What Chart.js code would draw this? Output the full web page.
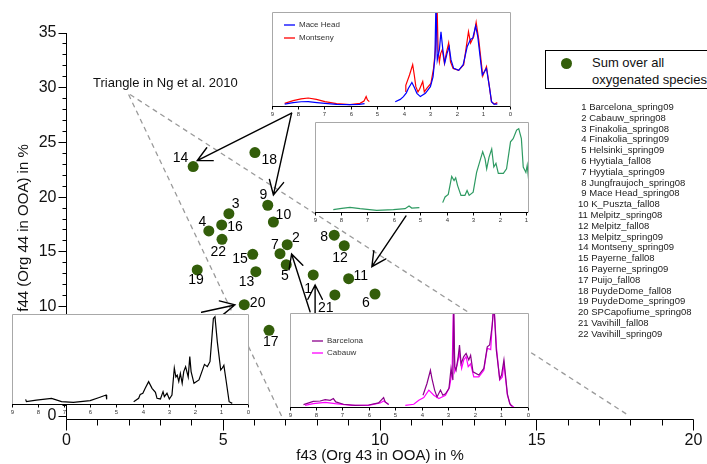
<!DOCTYPE html>
<html><head><meta charset="utf-8">
<script src="https://cdn.jsdelivr.net/npm/chart.js@4.4.1/dist/chart.umd.min.js"></script>
<style>
html,body{margin:0;padding:0;background:#fff;}
#wrap{position:relative;width:707px;height:464px;overflow:hidden;font-family:"Liberation Sans",Arial,sans-serif;color:#111;}
canvas{position:absolute;}
.txt{position:absolute;white-space:nowrap;}
#legend{position:absolute;left:545px;top:50px;width:180px;height:39px;border:1px solid #000;box-sizing:border-box;background:#fff;}
#dot{position:absolute;left:561px;top:58px;width:11px;height:11px;border-radius:50%;background:#335e0a;}
</style></head>
<body><div id="wrap">
<canvas id="main" width="707" height="464" style="left:0;top:0"></canvas>
<canvas id="inTop"></canvas>
<canvas id="inGreen"></canvas>
<canvas id="inBlack"></canvas>
<canvas id="inPurple"></canvas>
<div id="legend"></div>
<div id="dot"></div>
<div class="txt" style="left:592px;top:54px;font-size:13px;line-height:17px;">Sum over all</div>
<div class="txt" style="left:592px;top:71px;font-size:13px;line-height:17px;">oxygenated species</div>
<div class="txt" style="left:93px;top:74px;font-size:13px;line-height:17px;">Triangle in Ng et al. 2010</div>
<div id="sites" class="txt" style="left:578px;top:102px;font-size:9.5px;line-height:10.8px;color:#222;"></div>
</div>
<script>
// ---------------- data ----------------
const siteNames = ['Barcelona_spring09','Cabauw_spring08','Finakolia_spring08','Finakolia_spring09','Helsinki_spring09','Hyytiala_fall08','Hyytiala_spring09','Jungfraujoch_spring08','Mace Head_spring08','K_Puszta_fall08','Melpitz_spring08','Melpitz_fall08','Melpitz_spring09','Montseny_spring09','Payerne_fall08','Payerne_spring09','Puijo_fall08','PuydeDome_fall08','PuydeDome_spring09','SPCapofiume_spring08','Vavihill_fall08','Vavihill_spring09'];
const f43 = [7.87,7.04,5.18,4.54,7.01,9.84,6.81,8.54,6.42,6.60,9.00,8.86,6.04,4.04,5.94,4.95,6.46,6.01,4.17,5.67,8.56,4.96];
const f44 = [12.89,15.66,18.49,16.91,13.83,11.15,14.83,16.52,19.26,17.73,12.55,15.57,13.19,22.79,14.78,17.46,7.83,24.07,13.35,10.17,11.06,16.15];
const labelDx = [-5,8.7,6.7,-6.4,-1.3,-9,-5,-10,-4.4,10,12,-4.3,-9.3,-12.6,-12.7,13.3,1.7,14.3,-1.3,13.4,-9,-3.7];
const labelDy = [14,-7,-9.4,-9.3,11.3,9.3,-8.7,2.4,-10.3,-7,-3,12.6,10.6,-8.4,5,1.7,11.4,8,10.7,-1.4,12.7,12.4];
const xTickValues = Array.from({length:21},(_,i)=>i);
const yTickValues = Array.from({length:36},(_,i)=>i);
const triangleF43 = [6.86,1.96,17.96];
const triangleF44 = [0,29.5,0];
const arrowTailF43 = [7.18,7.18,10.83,4.31,7.77,7.93];
const arrowTailF44 = [27.67,27.67,18.28,9.48,9.53,9.41];
const arrowHeadF43 = [4.17,6.60,9.74,5.37,7.18,7.93];
const arrowHeadF44 = [23.34,20.20,13.65,10.15,14.81,11.97];

// inset spectra: [ppm, relative intensity], null = gap
const maceHead = [[8.52,2],[8.2,3.5],[7.9,4.5],[7.63,4.6],[7.3,3.6],[7.0,2.8],[6.56,1.8],[6.05,1.4],[5.7,1.8],[5.5,2.5],null,
 [4.34,4.6],[4.15,7],[4.03,10],[3.92,14],[3.84,18.9],[3.71,25],[3.62,20],[3.52,13.5],[3.39,10],[3.2,13.5],[3.01,20.6],[2.91,31],[2.84,51],[2.80,110],[2.75,49],[2.67,60],[2.61,79],[2.54,60],[2.47,45.5],[2.38,56],[2.30,63],[2.23,49],[2.13,40],[1.94,38],[1.77,44],[1.62,63],[1.49,71],[1.41,72],[1.30,85],[1.22,74],[1.05,33],[0.89,40],[0.78,20.6],[0.70,4.6],[0.61,2],[0.48,2]];
const montseny = [[8.52,2.8],[8.2,5.7],[7.9,7.5],[7.63,8.5],[7.32,7.1],[7.0,4.6],[6.56,2.5],[6.05,1.4],[5.67,2.8],[5.52,5.3],[5.44,10],[5.39,6.4],[5.32,4.6],null,
 [3.94,15],[3.94,22],[3.80,33],[3.68,44],[3.62,33],[3.56,20.6],[3.48,15],[3.42,17.8],[3.30,26],[3.24,15],[3.14,18.9],[2.99,24],[2.89,40],[2.82,60],[2.78,92],[2.76,110],[2.72,60],[2.67,47],[2.62,56],[2.56,60],[2.48,45.5],[2.41,56],[2.32,67],[2.25,47],[2.15,40],[1.94,38],[1.75,44],[1.57,79],[1.49,67],[1.37,74],[1.28,89],[1.18,70],[1.03,32],[0.89,42],[0.78,20.6],[0.70,4.6],[0.59,2],[0.48,3.6]];
const melpitz = [[8.31,2.6],[7.99,4],[7.68,5.2],[7.30,3.7],[6.67,1.9],[6.04,2.6],[5.60,3.7],[5.45,6.7],[5.35,4.4],[5.06,4.8],null,
 [4.18,10.4],[4.09,16.7],[3.97,19.6],[3.84,39.6],[3.75,35],[3.69,38],[3.62,29.6],[3.49,18.5],[3.34,18.5],[3.26,24],[3.18,18.5],[3.03,22],[2.90,44],[2.77,57],[2.67,67],[2.58,59],[2.52,48],[2.43,61],[2.33,70],[2.25,50],[2.17,54],[2.08,43],[1.89,43],[1.77,48],[1.62,78],[1.52,81.5],[1.39,91],[1.31,92.6],[1.21,81.5],[1.14,50],[1.04,44],[0.99,52],[0.91,28]];
const spCapofiume = [[8.48,5.2],[8.45,2.6],[8.07,4.4],[7.49,6.3],[7.11,2.6],[6.66,1.9],[6.02,3.7],[5.70,7],[5.41,10],[5.39,5.2],null,
 [4.36,2.6],[4.17,6.3],[4.11,10.7],[4.01,11.9],[3.92,17.4],[3.79,24.8],[3.66,17.4],[3.53,13],[3.47,6.3],[3.34,5.6],[3.24,13.7],[3.19,8.1],[3.09,11.9],[3.0,5.6],[2.9,10],[2.81,40],[2.75,30],[2.70,32],[2.64,25],[2.58,34],[2.51,23],[2.45,36],[2.38,41.5],[2.28,30],[2.22,52.6],[2.17,36],[2.06,23],[1.87,26.7],[1.66,44],[1.55,41.5],[1.45,47],[1.39,69],[1.32,95],[1.26,97],[1.17,69],[1.04,37.8],[0.98,40],[0.92,43],[0.83,25],[0.72,2.6],[0.60,0.7]];
const barcelona = [[8.49,2.5],[8.12,6],[7.86,6.4],[7.67,7.9],[7.48,7.1],[7.36,9],[7.27,5.4],[6.98,2.9],[6.53,1.8],[6.03,2.1],[5.65,4.3],[5.46,10],[5.40,5.4],[5.27,2.5],null,
 [3.97,12.5],[3.82,25],[3.69,39],[3.63,30],[3.53,18],[3.44,10.7],[3.31,18],[3.22,12.5],[3.12,14],[2.99,19.6],[2.91,41],[2.84,28.6],[2.81,110],[2.77,43],[2.72,39],[2.64,53.6],[2.59,66],[2.53,46],[2.43,53.6],[2.34,57],[2.24,50],[2.17,55],[2.08,37.5],[1.86,34],[1.67,41],[1.54,64],[1.45,66],[1.35,87.5],[1.29,110],[1.20,61],[1.07,30],[1.0,34],[0.91,50],[0.78,14],[0.69,3.6],[0.59,0.7]];
const cabauw = [[8.43,1.8],[8.12,3.6],[7.67,5],[7.29,3.6],[6.66,1.8],[6.03,1.8],[5.59,4.3],[5.46,6.4],[5.27,2.9],null,
 [4.64,1.8],[4.32,2.9],[4.13,7.1],[3.94,10],[3.75,18],[3.56,12.5],[3.37,9],[3.12,12.5],[2.97,21],[2.87,37.5],[2.82,110],[2.77,37.5],[2.68,44.6],[2.59,57],[2.51,41],[2.43,50],[2.34,53.6],[2.26,43],[2.17,46],[2.05,32],[1.86,32],[1.67,39],[1.54,62.5],[1.41,61],[1.35,89],[1.29,110],[1.19,62.5],[1.07,28.6],[0.97,32],[0.91,46],[0.78,12.5],[0.66,1.8],[0.53,0]];
const insetTickPpm = [9,8,7,6,5,4,3,2,1,0];

// ---------------- site list & text ----------------
document.getElementById('sites').innerHTML = siteNames.map((n,i)=>
  '<div style="padding-left:'+(i<9?3.3:0)+'px">'+(i+1)+' '+n+'</div>').join('');

const FONT = '"Liberation Sans", Arial, sans-serif';
Chart.defaults.font.family = FONT;

// ---------------- main chart ----------------
function drawArrow(ctx,x0,y0,x1,y1,len,ang){
  const t = Math.atan2(y1-y0,x1-x0);
  ctx.beginPath();
  ctx.moveTo(x0,y0); ctx.lineTo(x1,y1);
  ctx.moveTo(x1-len*Math.cos(t-ang), y1-len*Math.sin(t-ang));
  ctx.lineTo(x1,y1);
  ctx.lineTo(x1-len*Math.cos(t+ang), y1-len*Math.sin(t+ang));
  ctx.stroke();
}
const crisp = v => Math.round(v-0.5)+0.5;
const mainDecor = {
  id:'mainDecor',
  afterDatasetsDraw(chart){
    const {ctx, scales:{x,y}} = chart;
    ctx.save();
    // point number labels
    ctx.fillStyle='#000'; ctx.font='14px '+FONT; ctx.textAlign='center'; ctx.textBaseline='middle';
    f43.forEach((v,i)=>{
      ctx.fillText(String(i+1), x.getPixelForValue(v)+labelDx[i], y.getPixelForValue(f44[i])+labelDy[i]);
    });
    // arrows
    ctx.strokeStyle='#000'; ctx.lineWidth=1.4; ctx.lineCap='round';
    arrowTailF43.forEach((v,i)=>{
      drawArrow(ctx, x.getPixelForValue(v), y.getPixelForValue(arrowTailF44[i]),
        x.getPixelForValue(arrowHeadF43[i]), y.getPixelForValue(arrowHeadF44[i]), 16, 0.47);
    });
    ctx.restore();
  },
  afterDraw(chart){
    const {ctx, chartArea:a, scales:{x,y}} = chart;
    ctx.save();
    ctx.strokeStyle='#000'; ctx.lineWidth=1;
    const ax = crisp(a.left), ay = crisp(a.bottom);
    ctx.beginPath();
    ctx.moveTo(ax, a.top); ctx.lineTo(ax, ay);
    ctx.moveTo(ax, ay); ctx.lineTo(a.right, ay);
    yTickValues.forEach(v=>{
      const p = crisp(y.getPixelForValue(v)); const l = v%5===0?8:4;
      ctx.moveTo(ax-l,p); ctx.lineTo(ax,p);
    });
    xTickValues.forEach(v=>{
      const p = crisp(x.getPixelForValue(v)); const l = v%5===0?11:6;
      ctx.moveTo(p,ay); ctx.lineTo(p,ay+l);
    });
    ctx.stroke();
    // axis titles
    ctx.fillStyle='#111'; ctx.font='15px '+FONT; ctx.textAlign='center'; ctx.textBaseline='middle';
    ctx.fillText('f43 (Org 43 in OOA) in %', (a.left+a.right)/2, 456);
    ctx.translate(24, 228); ctx.rotate(-Math.PI/2);
    ctx.fillText('f44 (Org 44 in OOA) in %', 0, 0);
    ctx.restore();
  }
};

new Chart(document.getElementById('main'), {
  type:'scatter',
  data:{datasets:[
    {label:'Sum over all oxygenated species', data:f43.map((v,i)=>({x:v,y:f44[i]})),
     pointRadius:5.5, pointBackgroundColor:'#335e0a', pointBorderColor:'#335e0a', pointBorderWidth:0, order:1},
    {type:'line', label:'Triangle in Ng et al. 2010', data:triangleF43.map((v,i)=>({x:v,y:triangleF44[i]})),
     showLine:true, borderColor:'#9a9a9a', borderWidth:1.3, borderDash:[5,4], pointRadius:0, fill:false, tension:0, order:2}
  ]},
  options:{
    responsive:false, animation:false, events:[],
    layout:{padding:{left:0, top:33, right:13.5, bottom:0}},
    plugins:{legend:{display:false}, tooltip:{enabled:false}},
    scales:{
      x:{type:'linear', min:0, max:20,
         afterBuildTicks:s=>{s.ticks = xTickValues.map(v=>({value:v}));},
         afterFit:s=>{s.height = 44.7;},
         grid:{display:false, drawTicks:true, tickLength:11}, border:{display:false},
         ticks:{autoSkip:false, maxRotation:0, padding:1, color:'#111', font:{size:16}, callback:v=>v%5===0?String(v):''}},
      y:{type:'linear', min:-0.3, max:35,
         afterBuildTicks:s=>{s.ticks = yTickValues.map(v=>({value:v}));},
         afterFit:s=>{s.width = 66.5;},
         grid:{display:false, drawTicks:true, tickLength:8}, border:{display:false},
         ticks:{autoSkip:false, padding:2, color:'#111', font:{size:16}, callback:v=>v%5===0?String(v):''}}
    }
  },
  plugins:[mainDecor]
});

// ---------------- insets ----------------
const insetFrame = {
  id:'insetFrame',
  beforeDatasetsDraw(chart){
    const {ctx, chartArea:a} = chart;
    ctx.save(); ctx.fillStyle='#fff'; ctx.fillRect(a.left, a.top, a.right-a.left, a.bottom-a.top); ctx.restore();
  },
  afterDraw(chart){
    const {ctx, chartArea:a, scales:{x}} = chart;
    const o = chart.options.plugins.insetFrame;
    ctx.save();
    ctx.lineWidth=1;
    ctx.strokeStyle='#a8a8a8';
    ctx.beginPath();
    ctx.moveTo(crisp(a.left), crisp(a.bottom)); ctx.lineTo(crisp(a.left), crisp(a.top));
    ctx.lineTo(crisp(a.right), crisp(a.top)); ctx.lineTo(crisp(a.right), crisp(a.bottom));
    ctx.stroke();
    ctx.strokeStyle='#000';
    ctx.beginPath();
    ctx.moveTo(a.left, crisp(a.bottom)); ctx.lineTo(a.right, crisp(a.bottom));
    ctx.fillStyle='#333'; ctx.font='6px '+FONT; ctx.textAlign='center'; ctx.textBaseline='middle';
    insetTickPpm.forEach(v=>{
      if (v < x.min - 1e-6) return;
      const p = crisp(x.getPixelForValue(v));
      ctx.moveTo(p, crisp(a.bottom)); ctx.lineTo(p, crisp(a.bottom)+3);
      ctx.fillText(String(v), p, a.bottom+8);
    });
    ctx.stroke();
    if (o.legend) {
      ctx.font='8px '+FONT; ctx.textAlign='left';
      o.legend.forEach(e=>{
        ctx.strokeStyle=e.color; ctx.lineWidth=1.3;
        ctx.beginPath(); ctx.moveTo(e.x-o.left, e.y-o.top); ctx.lineTo(e.x+11-o.left, e.y-o.top); ctx.stroke();
        ctx.fillStyle='#333'; ctx.fillText(e.label, e.x+15-o.left, e.y-o.top);
      });
    }
    ctx.restore();
  }
};
function makeInset(id, box, xEnd, series, legend){
  const cv = document.getElementById(id);
  const L = box.l-4, T = box.t-4, W = box.r-box.l+8, H = box.b-box.t+16;
  cv.width = W; cv.height = H; cv.style.left = L+'px'; cv.style.top = T+'px';
  new Chart(cv, {
    type:'line',
    data:{datasets: series.map(s=>({
      label:s.label,
      data:s.data.map((p,i)=> p ? {x:p[0], y:p[1]} : {x:(s.data[i-1][0]+s.data[i+1][0])/2, y:null}),
      borderColor:s.color, borderWidth:1.2, pointRadius:0, spanGaps:false, tension:0, fill:false
    }))},
    options:{
      responsive:false, animation:false, events:[],
      layout:{padding:{left:4, top:4, right:4, bottom:12}},
      plugins:{legend:{display:false}, tooltip:{enabled:false}, insetFrame:{legend:legend, left:L, top:T}},
      scales:{
        x:{type:'linear', reverse:true, min:xEnd, max:9, display:false},
        y:{type:'linear', min:0, max:100, display:false}
      }
    },
    plugins:[insetFrame]
  });
}
makeInset('inTop', {l:272, r:510, t:12, b:106}, 0,
  [{label:'Mace Head', data:maceHead, color:'#0000ff'}, {label:'Montseny', data:montseny, color:'#ff0000'}],
  [{label:'Mace Head', color:'#0000ff', x:284, y:25}, {label:'Montseny', color:'#ff0000', x:284, y:38}]);
makeInset('inGreen', {l:315, r:528, t:122, b:212}, 0.96,
  [{label:'Melpitz', data:melpitz, color:'#2e9a62'}], null);
makeInset('inBlack', {l:12, r:248, t:314, b:404}, 0,
  [{label:'SPCapofiume', data:spCapofiume, color:'#000000'}], null);
makeInset('inPurple', {l:290, r:528, t:313, b:407}, 0,
  [{label:'Barcelona', data:barcelona, color:'#8b008b'}, {label:'Cabauw', data:cabauw, color:'#ff00ff'}],
  [{label:'Barcelona', color:'#8b008b', x:312, y:341}, {label:'Cabauw', color:'#ff00ff', x:312, y:353}]);
</script>
</body></html>
